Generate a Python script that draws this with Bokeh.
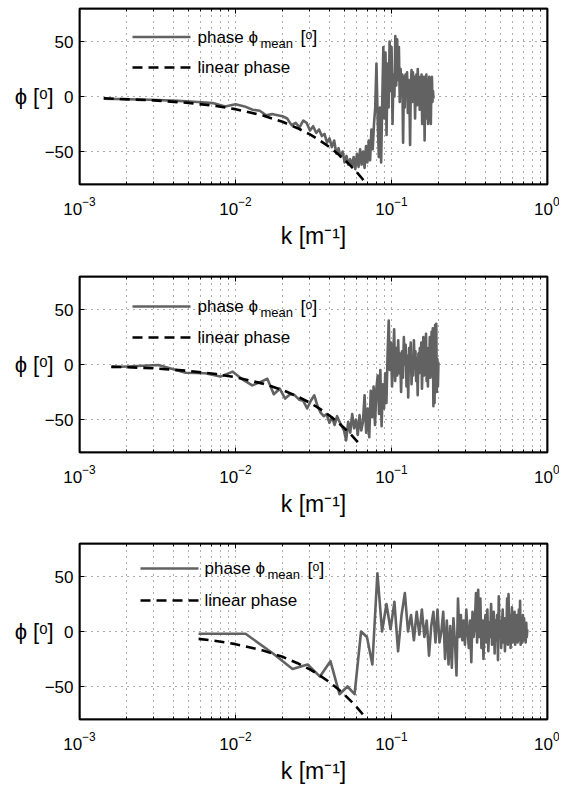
from bokeh.plotting import figure
from bokeh.layouts import column
from bokeh.models import LogAxis, LinearAxis, FixedTicker, Label, Range1d, BoxAnnotation
from bokeh.embed import file_html
from bokeh.resources import INLINE

# ---------------- data ----------------
X_TICKS = [1e-3, 1e-2, 1e-1, 1e0]
Y_TICKS = [-50, 0, 50]
Y_TICK_LABELS = {-50: "\u221250", 0: "0", 50: "50"}

# panel 1: wavenumber step and phase values
dk1 = 1.43e-3
phase1 = [-2, -3, -4, -5, -6, -9, -7, -9, -12, -13,
          -17, -16, -17, -18, -20, -26, -24, -28, -22, -24,
          -31, -27, -33, -30, -36, -34, -42, -38, -46, -40,
          -52, -47, -55, -50, -60, -54, -62, -57, -64, -55,
          -66, -52, -64, -48, -62, -50, -65, -45, -60, -40,
          -58, -30, -48, -25, -10, 30, -20, -55, -10, -60,
          -5, 45, -20, 40, -35, 30, -10, 50, 5, 45,
          -25, 20, 0, 55, 10, 52, 15, 45, -5, 25,
          5, 20, -42, 18, -10, 20, 0, 22, -15, 15,
          2, -44, 10, 24, -5, 22, 0, 18, -20, 10,
          20, -8, 25, 5, 18, -12, 15, -5, 20, -25,
          12, 0, 18, -40, 8, -15, 20, -20, 15, -25,
          5, 18, -22, 10, -25, 15, 18, -5, 5, -2]
lin_k1 = [0.00143, 0.003, 0.005, 0.0075, 0.01, 0.015, 0.02, 0.025, 0.03,
          0.035, 0.04, 0.045, 0.05, 0.055, 0.06, 0.065, 0.07]
lin_phase1 = [-1.6, -3.5, -5.8, -8.6, -11.5, -17.3, -23.0, -28.8, -34.5,
              -40.3, -46.0, -51.8, -57.5, -63.3, -69.0, -74.8, -80.5]

# panel 2
dk2 = 1.6e-3
phase2 = [-2.5, -0.5, -7.5, -8, -11, -6.5, -14, -19, -16, -13,
          -27, -22, -31, -27, -28, -32, -33, -40, -33, -28,
          -38, -44, -47, -45, -53, -48, -55, -47, -52, -56,
          -60, -69, -52, -62, -45, -58, -50, -64, -46, -60,
          -52, -28, -62, -40, -66, -24, -48, -20, -55, -22,
          -10, -45, -5, -56, -18, -40, -8, -35, 10, 40,
          -5, 20, -20, 5, 32, -15, 15, -10, 22, -8,
          10, -25, 12, -12, 25, 0, 18, -20, 8, -30,
          15, -5, 20, -18, 5, -10, 22, -2, 12, -15,
          5, -28, 10, -8, 15, 0, 20, -22, 5, 25,
          -10, 18, -5, 28, -15, 10, -20, 15, 0, 25,
          -12, 8, 30, -10, 33, -38, 20, -35, 36, 10,
          37, -25, 5, -20, 2]
lin_k2 = [0.0016, 0.003, 0.005, 0.0075, 0.01, 0.015, 0.02, 0.025, 0.03,
          0.035, 0.04, 0.045, 0.05, 0.055, 0.06, 0.064]
lin_phase2 = [-1.9, -3.5, -5.8, -8.7, -11.6, -17.4, -23.2, -29.0, -34.8,
              -40.6, -46.4, -52.2, -58.0, -63.8, -69.6, -74.3]

# panel 3
dk3 = 5.8e-3
phase3 = [-2, -2, -20, -34, -30, -41, -27, -57, -50, -57,
          0, -5, -30, 53, 0, 25, 2, 27, -18, 15,
          35, 0, 15, -8, 18, -3, 20, -5, 10, -22,
          5, 18, -10, 20, -10, 0, 18, -25, 10, -30,
          5, -33, 12, -10, -40, 30, -5, 15, -8, 10,
          -12, 20, 0, -15, 10, -28, 18, -5, 8, 35,
          -10, 38, -5, 30, -15, 10, -25, 5, 15, -10,
          20, -18, 8, -5, 25, -12, 0, 18, -20, 10,
          -8, 15, -26, 32, -5, 10, -15, 5, 20, -10,
          12, -18, 8, 0, 30, -12, 34, -8, 15, -15,
          5, 22, -10, 10, -5, 18, -12, 8, 0, 15,
          -10, 5, 20, -8, 28, -12, 10, 0, -10, 15,
          -8, 12, -5, 5, -10, 8, -5, 2]
lin_k3 = [0.0058, 0.0075, 0.01, 0.015, 0.02, 0.025, 0.03, 0.035, 0.04,
          0.045, 0.05, 0.055, 0.06, 0.065, 0.07]
lin_phase3 = [-6.7, -8.6, -11.5, -17.3, -23.0, -28.8, -34.5, -40.3, -46.0,
              -51.8, -57.5, -63.3, -69.0, -74.8, -80.5]

LEG_PHASE = ("phase \u03d5", "mean", "[\u1d52]")
LEG_LINEAR = "linear phase"
X_LABEL = "k [m\u207b\u00b9]"
Y_LABEL = "\u03d5 [\u1d52]"

# ---------------- styling ----------------
FONT = "Liberation Sans"
GRAY = "#626262"
FRAME_W, FRAME_H = 468, 176
X0, X1 = 1e-3, 1e0
Y0, Y1 = -80, 80
PX_PER_DEC = FRAME_W / 3.0
PX_PER_UNIT = FRAME_H / (Y1 - Y0)


def px2x(px):
    return 10 ** (-3 + px / PX_PER_DEC)


def px2y(py):
    return Y1 - py / PX_PER_UNIT


def make_panel(k, phase, lk, lph, leg, b_top, b_bottom):
    p = figure(x_axis_type="log", x_range=Range1d(X0, X1), y_range=Range1d(Y0, Y1),
               frame_width=FRAME_W, frame_height=FRAME_H,
               min_border_left=79, min_border_right=12,
               min_border_top=b_top, min_border_bottom=b_bottom,
               output_backend="svg", toolbar_location=None,
               background_fill_color="white", border_fill_color="white")
    p.outline_line_color = "black"
    p.outline_line_width = 1.5
    p.outline_line_alpha = 1

    minor = [m * 10 ** e for e in (-3, -2, -1) for m in range(2, 10)]
    xt = FixedTicker(ticks=X_TICKS, minor_ticks=minor)
    yt = FixedTicker(ticks=Y_TICKS, minor_ticks=[])

    xa = p.xaxis[0]
    xa.ticker = xt
    xa.axis_label = X_LABEL
    xa.axis_label_text_font = FONT
    xa.axis_label_text_font_size = "23px"
    xa.axis_label_text_font_style = "normal"
    xa.axis_label_standoff = 5
    xa.major_label_text_font = FONT
    xa.major_label_text_font_size = "17px"
    xa.major_label_standoff = 12
    ya = p.yaxis[0]
    ya.ticker = yt
    ya.major_label_overrides = Y_TICK_LABELS
    ya.major_label_text_font = FONT
    ya.major_label_text_font_size = "17px"
    ya.major_label_standoff = 6
    ya.axis_label = Y_LABEL
    ya.axis_label_text_font = FONT
    ya.axis_label_text_font_size = "22px"
    ya.axis_label_text_font_style = "normal"
    if "axis_label_orientation" in ya.properties():
        ya.axis_label_orientation = "horizontal"
        ya.axis_label_standoff = -12
    else:
        ya.axis_label_standoff = 4
    for ax in (xa, ya):
        ax.major_tick_in = 5
        ax.major_tick_out = 0
        ax.minor_tick_in = 3
        ax.minor_tick_out = 0
        ax.axis_line_color = "black"
        ax.axis_line_width = 1.5
        ax.major_tick_line_color = "black"
        ax.minor_tick_line_color = "black"
        ax.major_label_text_color = "black"
        ax.axis_label_text_color = "black"

    top = LogAxis(ticker=xt, major_label_text_font_size="1px", major_label_text_alpha=0,
                  major_label_standoff=0, axis_line_color="black", axis_line_width=1.5,
                  major_tick_in=5, major_tick_out=0, minor_tick_in=3, minor_tick_out=0)
    right = LinearAxis(ticker=yt, major_label_text_font_size="1px", major_label_text_alpha=0,
                       major_label_standoff=0, axis_line_color="black", axis_line_width=1.5,
                       major_tick_in=5, major_tick_out=0, minor_tick_in=0, minor_tick_out=0)
    p.add_layout(top, "above")
    p.add_layout(right, "right")

    for g in (p.xgrid[0], p.ygrid[0]):
        g.grid_line_color = "#333333"
        g.grid_line_dash = "1 5"
        g.grid_line_alpha = 0.8
        g.grid_line_width = 1
    p.xgrid[0].ticker = xt
    p.ygrid[0].ticker = yt
    p.xgrid[0].minor_grid_line_color = "#333333"
    p.xgrid[0].minor_grid_line_dash = "1 5"
    p.xgrid[0].minor_grid_line_alpha = 0.8

    p.line(k, phase, line_color=GRAY, line_width=2.6, line_join="round")
    p.line(lk, lph, line_color="black", line_width=2.6, line_dash="10 6")

    # frame box
    p.add_layout(BoxAnnotation(left=X0, right=X1, bottom=Y0, top=Y1,
                               fill_alpha=0, fill_color=None,
                               line_color="black", line_width=2, line_alpha=1,
                               level="overlay"))

    # legend (no box)
    lx0, lx1, tx, r1, r2 = leg
    p.line([px2x(lx0), px2x(lx1)], [px2y(r1), px2y(r1)], line_color=GRAY, line_width=2.6)
    p.line([px2x(lx0), px2x(lx1)], [px2y(r2), px2y(r2)], line_color="black",
           line_width=2.6, line_dash="10 6")
    main, sub, unit = LEG_PHASE
    p.add_layout(Label(x=px2x(tx), y=px2y(r1), text=main, text_font=FONT,
                       text_font_size="17px", text_baseline="middle", text_align="left",
                       text_color="black"))
    p.add_layout(Label(x=px2x(tx + 63), y=px2y(r1 + 6), text=sub, text_font=FONT,
                       text_font_size="13px", text_baseline="middle", text_align="left",
                       text_color="black"))
    p.add_layout(Label(x=px2x(tx + 103), y=px2y(r1), text=unit, text_font=FONT,
                       text_font_size="18px", text_baseline="middle", text_align="left",
                       text_color="black"))
    p.add_layout(Label(x=px2x(tx), y=px2y(r2), text=LEG_LINEAR, text_font=FONT,
                       text_font_size="17px", text_baseline="middle", text_align="left",
                       text_color="black"))
    return p


k1 = [dk1 * (i + 1) for i in range(len(phase1))]
k2 = [dk2 * (i + 1) for i in range(len(phase2))]
k3 = [dk3 * (i + 1) for i in range(len(phase3))]

p1 = make_panel(k1, phase1, lin_k1, lin_phase1, (53, 111, 118, 28.5, 59), 8, 88)
p2 = make_panel(k2, phase2, lin_k2, lin_phase2, (53, 111, 118, 30, 61), 4, 87)
p3 = make_panel(k3, phase3, lin_k3, lin_phase3, (61, 119, 125, 25, 57), 4, 62)

layout = column(p1, p2, p3, spacing=0)
open("out.html", "w").write(file_html(layout, INLINE))
